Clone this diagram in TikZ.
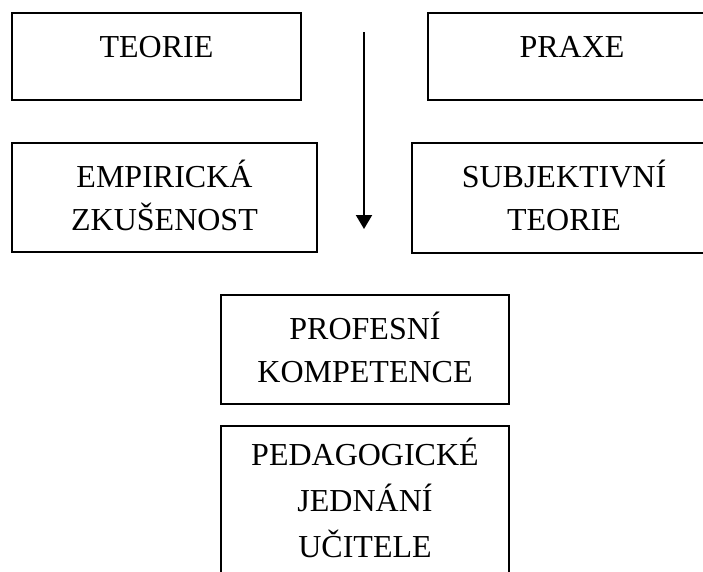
\documentclass[tikz,border=0pt]{standalone}
\usepackage{fontspec}
\setmainfont{Liberation Serif}
\usetikzlibrary{arrows.meta}
\begin{document}
\begin{tikzpicture}[x=0.75pt,y=-0.75pt,
  box/.style={draw, line width=1.1pt, inner sep=0pt, outer sep=0pt},
  lbl/.style={anchor=base, align=center, inner sep=0pt, font=\fontsize{24}{32.25}\selectfont},
  lblwide/.style={lbl, font=\fontsize{24}{34.5}\selectfont},
  flow/.style={line width=1.5pt, -{Triangle[width=12pt,length=10.5pt]}}]
\useasboundingbox (0,0) rectangle (703,571);
\clip (0,0) rectangle (703,571);
% boxes
\node[box, minimum width=216.75pt, minimum height=65.25pt] (bteorie) at (156.5,56.5) {};
\node[box, minimum width=216pt, minimum height=65.25pt] (bpraxe) at (572,56.5) {};
\node[box, minimum width=228.75pt, minimum height=81.75pt] (bempir) at (164.5,197.5) {};
\node[box, minimum width=228pt, minimum height=82.5pt] (bsubj) at (564,198) {};
\node[box, minimum width=216pt, minimum height=81.75pt] (bprof) at (365,349.5) {};
\node[box, minimum width=216pt, minimum height=145.5pt] (bped) at (365,523) {};
% texts (anchor = baseline of the last line)
\node[lbl] (tteorie) at (156.5,57) {TEORIE};
\node[lbl] (tpraxe) at (572,57) {PRAXE};
\node[lbl] (tempir) at (164.5,230) {EMPIRICKÁ\\ZKUŠENOST};
\node[lbl] (tsubj) at (564,230) {SUBJEKTIVNÍ\\TEORIE};
\node[lbl] (tprof) at (365,382) {PROFESNÍ\\KOMPETENCE};
\node[lblwide] (tped) at (365,557) {PEDAGOGICKÉ\\JEDNÁNÍ\\UČITELE};
% arrow
\coordinate (atop) at (364,32);
\coordinate (abot) at (364,229);
\draw[flow] (atop) -- (abot);
\end{tikzpicture}
\end{document}
